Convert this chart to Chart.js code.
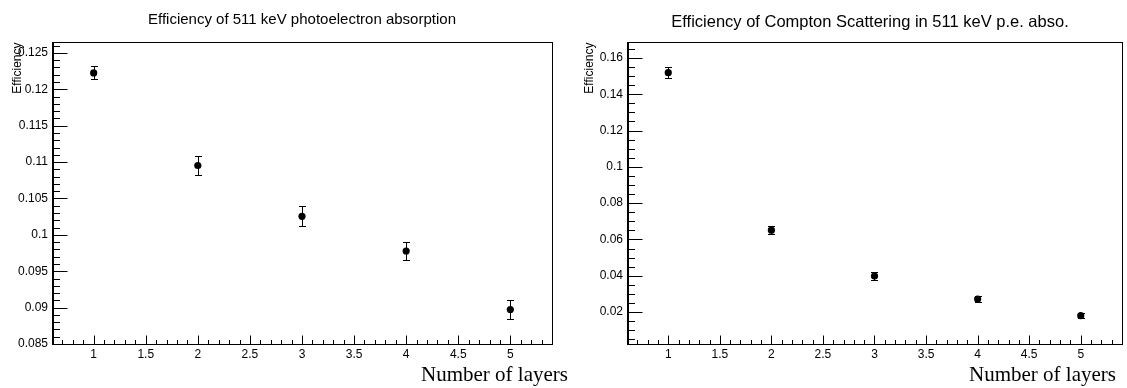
<!DOCTYPE html>
<html><head><meta charset="utf-8">
<script src="https://cdn.jsdelivr.net/npm/chart.js@4/dist/chart.umd.min.js"></script>
<style>
html,body{margin:0;padding:0;background:#fff;width:1127px;height:388px;overflow:hidden;position:relative}
#c1{position:absolute;left:0;top:0}
#c2{position:absolute;left:563px;top:0}
</style></head><body>
<canvas id="c1" width="575" height="388"></canvas>
<canvas id="c2" width="564" height="388"></canvas>
<script>
// ---- data ----
const layers = [1, 2, 3, 4, 5];
const photoEff = [0.12225, 0.10953, 0.10255, 0.09778, 0.08974];
const photoErr = [0.00090, 0.00127, 0.00138, 0.00121, 0.00124];
const comptonEff = [0.1519, 0.0651, 0.0398, 0.0272, 0.0180];
const comptonErr = [0.0029, 0.0022, 0.0020, 0.0016, 0.0015];
const xTicks = [1, 1.5, 2, 2.5, 3, 3.5, 4, 4.5, 5];
const photoYTicks = [0.085, 0.09, 0.095, 0.1, 0.105, 0.11, 0.115, 0.12, 0.125];
const comptonYTicks = [0.02, 0.04, 0.06, 0.08, 0.1, 0.12, 0.14, 0.16];
const photoTitle = 'Efficiency of 511 keV photoelectron absorption';
const comptonTitle = 'Efficiency of Compton Scattering in 511 keV p.e. abso.';
const xTitle = 'Number of layers';
const yTitle = 'Efficiency';

const SANS = '"Liberation Sans", Arial, Helvetica, sans-serif';
const SERIF = '"Liberation Serif", "Times New Roman", serif';

function fmt(v){ return String(parseFloat(v.toFixed(5))); }

function subTicks(majors, nSub, min, max){
  const step = majors[1] - majors[0];
  const m = step / nSub;
  const out = [];
  const kmin = Math.ceil((min - majors[0]) / m - 1e-6);
  const kmax = Math.floor((max - majors[0]) / m + 1e-6);
  for (let k = kmin; k <= kmax; k++) {
    out.push({v: majors[0] + k * m, major: ((k % nSub) + nSub) % nSub === 0});
  }
  return out;
}

const rootPlugin = {
  id: 'rootStyle',
  beforeDatasetsDraw(chart, args, o){
    const ctx = chart.ctx, xs = chart.scales.x, ys = chart.scales.y;
    ctx.save();
    ctx.strokeStyle = '#000'; ctx.lineWidth = 1;
    chart.data.datasets[0].data.forEach((p, i) => {
      const px = Math.round(xs.getPixelForValue(p.x)) + 0.5;
      const y1 = Math.round(ys.getPixelForValue(p.y - o.err[i])) + 0.5;
      const y2 = Math.round(ys.getPixelForValue(p.y + o.err[i])) + 0.5;
      ctx.beginPath();
      ctx.moveTo(px, y1); ctx.lineTo(px, y2);
      ctx.moveTo(px - 3.5, y1); ctx.lineTo(px + 3.5, y1);
      ctx.moveTo(px - 3.5, y2); ctx.lineTo(px + 3.5, y2);
      ctx.stroke();
    });
    ctx.restore();
  },
  afterDraw(chart, args, o){
    const ctx = chart.ctx, ca = chart.chartArea, xs = chart.scales.x, ys = chart.scales.y;
    ctx.save();
    ctx.strokeStyle = '#000'; ctx.lineWidth = 1;
    const L = Math.round(ca.left) + 0.5, R = Math.round(ca.right) + 0.5;
    const T = Math.round(ca.top) + 0.5, B = Math.round(ca.bottom) + 0.5;
    ctx.strokeRect(L, T, R - L, B - T);
    // heavier left and bottom axis lines, as in the reference
    ctx.beginPath();
    ctx.moveTo(L + 1, T); ctx.lineTo(L + 1, B);
    ctx.stroke();
    // y ticks (inward, left side)
    ctx.beginPath();
    subTicks(o.yMajors, o.ySub, ys.min, ys.max).forEach(t => {
      const y = Math.round(ys.getPixelForValue(t.v)) + 0.5;
      ctx.moveTo(L, y); ctx.lineTo(L + (t.major ? 15 : 7.5), y);
    });
    // x ticks (inward, bottom)
    subTicks(xTicks, 5, xs.min, xs.max).forEach(t => {
      const x = Math.round(xs.getPixelForValue(t.v)) + 0.5;
      ctx.moveTo(x, B); ctx.lineTo(x, B - (t.major ? 9 : 4.5));
    });
    ctx.stroke();
    // titles
    ctx.fillStyle = '#000';
    ctx.font = o.titleSize + 'px ' + SANS;
    ctx.textAlign = 'center'; ctx.textBaseline = 'middle';
    ctx.fillText(o.title, o.titleX, o.titleY);
    // x axis title
    ctx.font = '21px ' + SERIF;
    ctx.textAlign = 'right'; ctx.textBaseline = 'alphabetic';
    ctx.fillText(xTitle, o.xTitleRight, 381);
    // y axis title
    ctx.save();
    ctx.translate(o.yTitleX, T);
    ctx.rotate(-Math.PI / 2);
    ctx.font = '12px ' + SANS;
    ctx.textAlign = 'right'; ctx.textBaseline = 'alphabetic';
    ctx.fillText(yTitle, 0, 0);
    ctx.restore();
    ctx.restore();
  }
};

function makeChart(id, values, errs, yMajors, yMin, yMax, ySub, yWidth, padRight, plug){
  return new Chart(document.getElementById(id), {
    type: 'scatter',
    data: { datasets: [{
      data: layers.map((x, i) => ({x: x, y: values[i]})),
      pointRadius: 3.6, pointHoverRadius: 3.6,
      pointBackgroundColor: '#000', pointBorderWidth: 0, borderColor: '#000'
    }]},
    options: {
      responsive: false, animation: false, devicePixelRatio: 1,
      layout: { padding: { top: 42, left: 0, right: padRight, bottom: 0 } },
      plugins: { legend: {display: false}, tooltip: {enabled: false}, rootStyle: plug },
      events: [],
      scales: {
        x: {
          type: 'linear', min: 0.6, max: 5.4,
          afterBuildTicks: s => { s.ticks = xTicks.map(v => ({value: v})); },
          afterFit: s => { s.height = 44; },
          grid: {display: false, drawTicks: false}, border: {display: false},
          ticks: { callback: v => fmt(v), color: '#000', padding: 3,
                   font: {family: SANS, size: 12}, maxRotation: 0, autoSkip: false }
        },
        y: {
          type: 'linear', min: yMin, max: yMax,
          afterBuildTicks: s => { s.ticks = yMajors.map(v => ({value: v})); },
          afterFit: s => { s.width = yWidth; },
          grid: {display: false, drawTicks: false}, border: {display: false},
          ticks: { callback: v => fmt(v), color: '#000', padding: 4,
                   font: {family: SANS, size: 12}, autoSkip: false }
        }
      }
    },
    plugins: [rootPlugin]
  });
}

makeChart('c1', photoEff, photoErr, photoYTicks, 0.085, 0.1265, 5, 52, 23, {
  err: photoErr, yMajors: photoYTicks, ySub: 5,
  title: photoTitle, titleSize: 15, titleX: 302, titleY: 20,
  xTitleRight: 568, yTitleX: 21
});
makeChart('c2', comptonEff, comptonErr, comptonYTicks, 0.0024, 0.1688, 4, 64, 5, {
  err: comptonErr, yMajors: comptonYTicks, ySub: 4,
  title: comptonTitle, titleSize: 16.5, titleX: 307, titleY: 22,
  xTitleRight: 553, yTitleX: 30
});
</script>
</body></html>
